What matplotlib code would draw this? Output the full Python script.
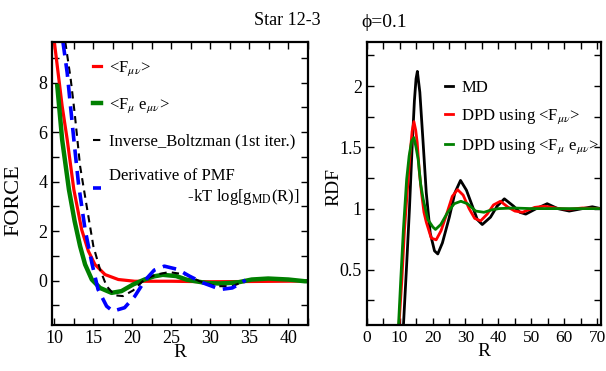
import matplotlib
matplotlib.use("Agg")
import matplotlib.pyplot as plt
from matplotlib.ticker import MultipleLocator

plt.rcParams["font.family"] = ["Liberation Serif", "DejaVu Serif"]
plt.rcParams["mathtext.fontset"] = "stix"

# ---- left panel: FORCE vs R ----
f_r = [9.96, 11.0, 11.65, 12.5, 13.5, 14.36, 15.2, 16.5, 18.2, 20.3, 25.0, 30.0, 35.0, 43.0]
f_y = [9.76, 7.06, 5.7, 3.68, 2.06, 1.19, 0.65, 0.24, 0.04, -0.03, -0.03, -0.05, -0.04, -0.02]

fe_r = [10.38, 11.0, 11.87, 12.6, 13.3, 13.94, 14.8, 15.85, 17.33, 18.6, 20.1, 21.56, 22.8,
        23.9, 25.6, 27.0, 28.1, 29.5, 31.1, 32.5, 33.6, 35.3, 37.4, 40.0, 42.1, 43.0]
fe_y = [7.87, 5.7, 3.68, 2.4, 1.39, 0.65, 0.04, -0.3, -0.5, -0.43, -0.16, 0.04, 0.17,
        0.23, 0.18, 0.03, -0.03, -0.1, -0.12, -0.1, -0.07, 0.04, 0.08, 0.04, -0.03, -0.03]

ib_r = [11.4, 12.1, 12.6, 13.3, 13.72, 14.36, 15.0, 15.85, 16.7, 17.75, 18.8, 20.1, 21.56,
        23.05, 24.7, 26.9, 28.6, 30.7, 32.8, 34.05, 34.5]
ib_y = [9.66, 8.14, 6.79, 4.63, 3.82, 2.6, 1.39, 0.45, -0.23, -0.6, -0.63, -0.4, 0.04,
        0.24, 0.34, 0.24, -0.03, -0.23, -0.23, -0.07, 0.0]

pmf_r = [11.1, 11.65, 12.07, 12.5, 13.1, 13.94, 14.8, 15.6, 16.7, 17.5, 19.0, 20.3, 21.6,
         22.8, 24.1, 25.8, 27.3, 29.0, 31.3, 32.8, 34.05, 34.5]
pmf_y = [9.66, 8.4, 7.06, 5.7, 3.9, 2.06, 0.72, -0.36, -1.04, -1.24, -1.1, -0.64, 0.0,
         0.42, 0.58, 0.45, 0.18, -0.09, -0.36, -0.3, -0.09, 0.02]

# ---- right panel: RDF vs R ----
md_r = [11.16, 12.2, 13.0, 13.8, 14.5, 15.0, 15.4, 16.15, 17.14, 18.1, 19.3, 20.6, 21.6,
        23.0, 25.1, 26.8, 28.5, 30.3, 32.1, 33.6, 35.1, 37.6, 39.6, 41.8, 44.6, 46.5, 48.3,
        51.5, 54.8, 58.0, 61.5, 65.5, 68.5, 71.0]
md_y = [0.04, 0.57, 1.0, 1.5, 1.88, 2.06, 2.12, 1.95, 1.54, 1.13, 0.80, 0.655, 0.63,
        0.72, 0.93, 1.13, 1.23, 1.15, 1.02, 0.91, 0.87, 0.93, 1.02, 1.08, 1.02, 0.97, 0.955,
        1.0, 1.04, 1.0, 0.98, 1.0, 1.015, 1.0]

dpd_r = [9.8, 10.7, 11.5, 12.5, 13.2, 13.8, 14.35, 14.9, 15.35, 16.0, 16.65, 17.4, 18.1,
         19.6, 21.1, 22.6, 24.1, 26.0, 27.6, 29.3, 31.1, 32.8, 34.6, 36.6, 38.5, 40.6, 43.0,
         45.0, 47.3, 51.0, 54.0, 58.5, 61.5, 65.5, 71.0]
dpd_y = [0.04, 0.42, 0.83, 1.2, 1.45, 1.63, 1.71, 1.64, 1.54, 1.3, 1.13, 0.97, 0.89,
         0.76, 0.745, 0.82, 0.94, 1.1, 1.155, 1.11, 1.0, 0.92, 0.90, 0.955, 1.03, 1.06, 1.01,
         0.98, 0.97, 1.01, 1.02, 1.0, 0.995, 1.005, 1.0]

dpde_r = [9.66, 10.36, 11.16, 12.15, 12.9, 13.65, 14.35, 15.0, 15.65, 16.4, 17.14, 18.6,
          20.1, 20.9, 22.5, 24.6, 26.6, 28.6, 30.6, 33.1, 35.6, 38.0, 40.1, 44.6, 50.0, 60.0, 71.0]
dpde_y = [0.04, 0.42, 0.83, 1.24, 1.43, 1.55, 1.58, 1.5, 1.40, 1.2, 1.08, 0.91,
          0.85, 0.83, 0.87, 0.97, 1.04, 1.06, 1.04, 0.98, 0.97, 0.99, 1.0, 1.005, 1.0, 1.0, 1.0]

fig = plt.figure(figsize=(6.06, 3.71), dpi=100)
ax1 = fig.add_axes([0.0858, 0.124, 0.4224, 0.7628])
ax2 = fig.add_axes([0.605, 0.124, 0.386, 0.7628])

ax1.plot(f_r, f_y, color="red", lw=2.3, label=r"<F$_{\mu\nu}$>")
ax1.plot(fe_r, fe_y, color="green", lw=3.2, label=r"<F$_{\mu}$ e$_{\mu\nu}$>")
ax1.plot(ib_r, ib_y, color="black", lw=1.5, dashes=(3.5, 2.5),
         label="Inverse_Boltzman (1st iter.)")
ax1.plot(pmf_r, pmf_y, color="blue", lw=2.6, dashes=(3.8, 2.2),
         label="Derivative of PMF\n" + " " * 19 + "-kT log[g$_{\\rm MD}$(R)]")
ax1.set_xlim(9.7, 42.5)
ax1.set_ylim(-1.8, 9.65)
ax1.xaxis.set_major_locator(MultipleLocator(5))
ax1.xaxis.set_minor_locator(MultipleLocator(2.5))
ax1.yaxis.set_major_locator(MultipleLocator(2))
ax1.yaxis.set_minor_locator(MultipleLocator(1))
ax1.set_xlabel("R", fontsize=14, labelpad=-2)
ax1.set_ylabel("FORCE", fontsize=16)
ax1.yaxis.set_label_coords(-0.113, 0.44)
ax1.legend(loc="upper left", bbox_to_anchor=(0.1, 0.99), frameon=False,
           handlelength=0.5, handletextpad=0.5, labelspacing=1.1, fontsize=12)

ax2.plot(md_r, md_y, color="black", lw=2, label="MD")
ax2.plot(dpd_r, dpd_y, color="red", lw=2, label=r"DPD using <F$_{\mu\nu}$>")
ax2.plot(dpde_r, dpde_y, color="green", lw=2, label=r"DPD using <F$_{\mu}$ e$_{\mu\nu}$>")
ax2.set_xlim(0, 71)
ax2.set_ylim(0.05, 2.36)
ax2.xaxis.set_major_locator(MultipleLocator(10))
ax2.xaxis.set_minor_locator(MultipleLocator(5))
ax2.yaxis.set_minor_locator(MultipleLocator(0.25))
ax2.set_yticks([0.5, 1, 1.5, 2])
ax2.set_yticklabels(["0.5", "1", "1.5", "2"])
ax2.set_xlabel("R", fontsize=14, labelpad=-2)
ax2.set_ylabel("RDF", fontsize=14)
ax2.yaxis.set_label_coords(-0.105, 0.486)
ax2.legend(loc="upper left", bbox_to_anchor=(0.27, 0.92), frameon=False,
           handlelength=0.5, handletextpad=0.5, labelspacing=0.7, fontsize=12)

for ax in (ax1, ax2):
    ax.tick_params(which="both", direction="in", top=True, right=True, labelsize=13)
    ax.tick_params(which="major", length=5, width=1)
    ax.tick_params(which="minor", length=5, width=1)
    for s in ax.spines.values():
        s.set_linewidth(1.6)
    for ln in ax.get_lines():
        ln.set_solid_joinstyle("round")
ax2.tick_params(axis="x", labelsize=12.5)

fig.text(0.474, 0.946, "Star 12-3", fontsize=13, ha="center", va="center")
fig.text(0.597, 0.94, "\u03d5=0.1", fontsize=14, ha="left", va="center")

fig.savefig("out.png", dpi=100)
